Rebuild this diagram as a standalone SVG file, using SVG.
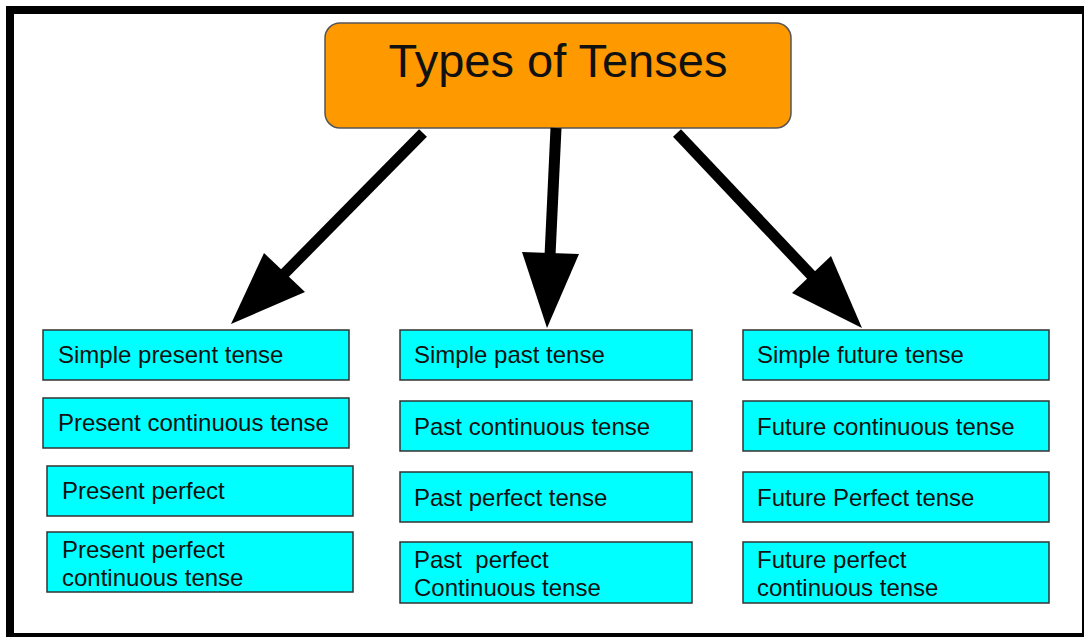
<svg xmlns="http://www.w3.org/2000/svg" width="1084" height="637" viewBox="0 0 1084 637">
<style>
.box{fill:#00ffff;stroke:#333;stroke-width:1.5}
.t{font-family:"Liberation Sans",Arial,sans-serif;font-size:24px;fill:#111;white-space:pre}
.title{font-family:"Liberation Sans",Arial,sans-serif;font-size:47px;fill:#111;text-anchor:middle}
.ln{stroke:#000;stroke-width:11;fill:none}
.hd{fill:#000}
</style>
<rect x="0" y="0" width="1084" height="637" fill="#fff"/>
<rect x="10" y="10" width="1076" height="627" fill="#fff" stroke="#000" stroke-width="8"/>
<g id="root">
<rect x="325" y="23" width="466" height="105" rx="15" fill="#ff9900" stroke="#555" stroke-width="1.5"/>
<text class="title" x="558" y="77">Types of Tenses</text>
</g>
<g id="connectors">
<line class="ln" x1="423" y1="133" x2="283" y2="275"/>
<polygon class="hd" points="231,324 264,253 305,292"/>
<line class="ln" x1="556" y1="128" x2="550" y2="256"/>
<polygon class="hd" points="522,252 579,254 547,328"/>
<line class="ln" x1="677" y1="133" x2="813" y2="277"/>
<polygon class="hd" points="831,256 792,293 862,328"/>
</g>
<g id="present-1"><rect class="box" x="43" y="330" width="306" height="50"/><text class="t" x="58" y="363">Simple present tense</text></g>
<g id="present-2"><rect class="box" x="43" y="398" width="306" height="50"/><text class="t" x="58" y="431">Present continuous tense</text></g>
<g id="present-3"><rect class="box" x="47" y="466" width="306" height="50"/><text class="t" x="62" y="499">Present perfect</text></g>
<g id="present-4"><rect class="box" x="47" y="532" width="306" height="60"/><text class="t" x="62" y="558">Present perfect</text><text class="t" x="62" y="586">continuous tense</text></g>
<g id="past-1"><rect class="box" x="400" y="330" width="292" height="50"/><text class="t" x="414" y="363">Simple past tense</text></g>
<g id="past-2"><rect class="box" x="400" y="401" width="292" height="50"/><text class="t" x="414" y="435">Past continuous tense</text></g>
<g id="past-3"><rect class="box" x="400" y="472" width="292" height="50"/><text class="t" x="414" y="506">Past perfect tense</text></g>
<g id="past-4"><rect class="box" x="400" y="542" width="292" height="61"/><text class="t" x="414" y="568">Past  perfect</text><text class="t" x="414" y="596">Continuous tense</text></g>
<g id="future-1"><rect class="box" x="743" y="330" width="306" height="50"/><text class="t" x="757" y="363">Simple future tense</text></g>
<g id="future-2"><rect class="box" x="743" y="401" width="306" height="50"/><text class="t" x="757" y="435">Future continuous tense</text></g>
<g id="future-3"><rect class="box" x="743" y="472" width="306" height="50"/><text class="t" x="757" y="506">Future Perfect tense</text></g>
<g id="future-4"><rect class="box" x="743" y="542" width="306" height="61"/><text class="t" x="757" y="568">Future perfect</text><text class="t" x="757" y="596">continuous tense</text></g>
</svg>
